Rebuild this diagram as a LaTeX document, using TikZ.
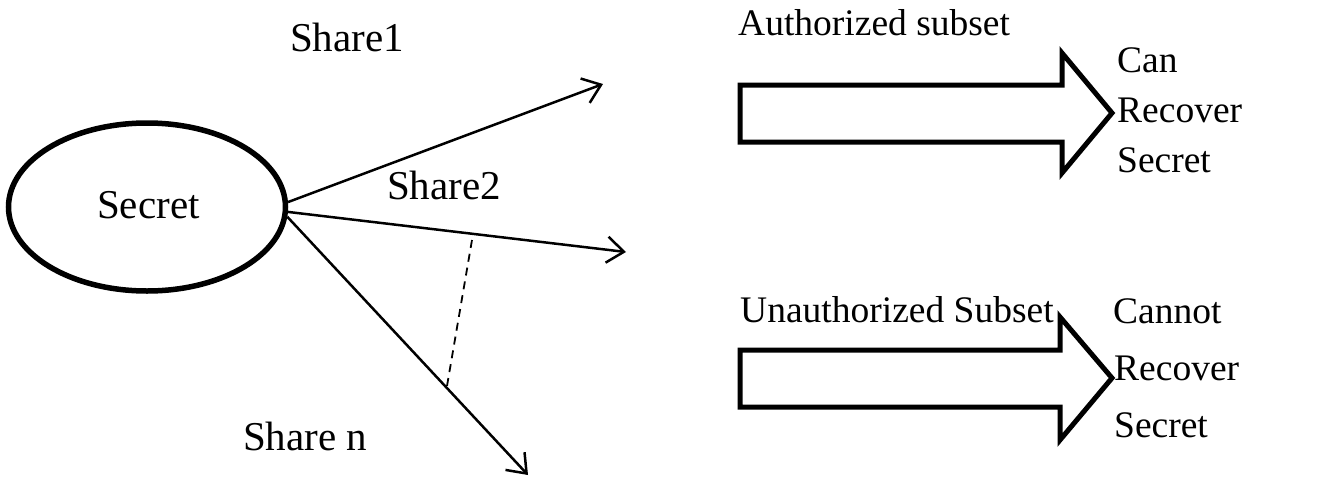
\documentclass[tikz,border=0pt]{standalone}
\usepackage{fontspec}
\setmainfont{Liberation Serif}
\usetikzlibrary{arrows.meta,shapes.geometric}
\begin{document}
\begin{tikzpicture}[x=1pt,y=-1pt,
  lbl/.style={inner sep=0pt,anchor=base west,font=\fontsize{41}{46}\selectfont},
  rlbl/.style={inner sep=0pt,anchor=base west,font=\fontsize{37.5}{42}\selectfont},
  share/.style={line width=2.5pt,-{Straight Barb[length=17pt,width=26pt,line width=2.5pt]}},
  block/.style={line width=5pt,line join=miter}]
\useasboundingbox (0,0) rectangle (1323,477);
% secret ellipse
\node[ellipse,draw,line width=5.5pt,minimum width=277pt,minimum height=168pt,inner sep=0pt] (sec) at (147,207) {};
\node[lbl] (sectext) at (97,218) {Secret};
% share arrows
\coordinate (e1) at (603,84);
\coordinate (e2) at (626,252);
\coordinate (e3) at (528,475);
\draw[share] (sec.2) -- (e1);
\draw[share] (sec.-2.5) -- (e2);
\draw[share] (sec.-4) -- (e3);
\coordinate (d1) at (472,240);
\coordinate (d2) at (447,386);
\draw[line width=1.8pt,dash pattern=on 8pt off 6pt] (d1) -- (d2);
\node[lbl] (s1) at (290,51) {Share1};
\node[lbl] (s2) at (387,199) {Share2};
\node[lbl] (sn) at (243,450) {Share n};
% authorized block arrow
\draw[block] (740,85) -- (1062,85) -- (1062,53) -- (1112,113) -- (1062,173) -- (1062,142) -- (740,142) -- cycle;
\node[rlbl] (auth) at (738,35) {Authorized subset};
\node[rlbl] (can) at (1117,72) {Can};
\node[rlbl] (rec1) at (1117,122) {Recover};
\node[rlbl] (sec1) at (1117,172) {Secret};
% unauthorized block arrow
\draw[block] (740,350) -- (1060,350) -- (1060,317) -- (1112,378) -- (1060,440) -- (1060,407) -- (740,407) -- cycle;
\node[rlbl] (unauth) at (740,322) {Unauthorized Subset};
\node[rlbl] (cannot) at (1113,323) {Cannot};
\node[rlbl] (rec2) at (1114,380) {Recover};
\node[rlbl] (sec2) at (1114,437) {Secret};
\end{tikzpicture}
\end{document}
